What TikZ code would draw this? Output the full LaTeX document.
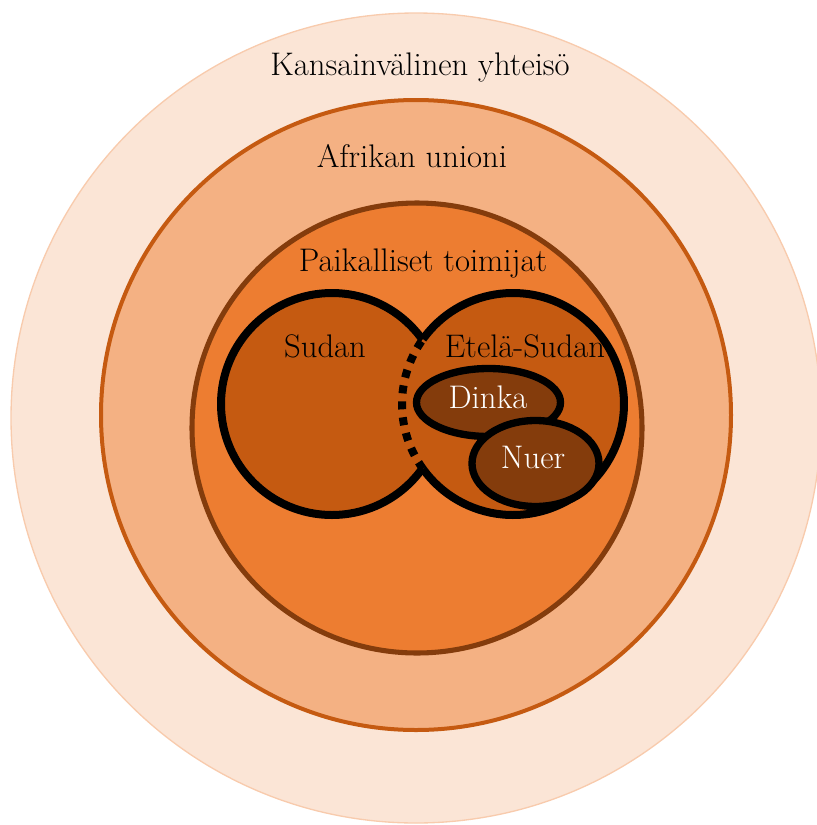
\documentclass[tikz,border=0pt]{standalone}
\definecolor{cOuter}{HTML}{FBE5D6}
\definecolor{cOuterEdge}{HTML}{F8CBAD}
\definecolor{cAU}{HTML}{F4B183}
\definecolor{cAUEdge}{HTML}{C55A11}
\definecolor{cLocal}{HTML}{ED7D31}
\definecolor{cLocalEdge}{HTML}{843C0C}
\definecolor{cState}{HTML}{C55A11}
\definecolor{cGroup}{HTML}{843C0C}
\tikzset{
  lbl/.style={anchor=base, inner sep=0pt, font=\fontsize{24.5}{28}\selectfont},
  wlbl/.style={lbl, text=white},
  statefill/.style={fill=cState},
  blk/.style={draw=black, line width=6pt},
  grp/.style={fill=cGroup, draw=black, line width=5.5pt},
}
\begin{document}
\begin{tikzpicture}[x=0.75pt, y=-0.75pt]
\useasboundingbox (0,0) rectangle (817,825);
\begin{scope}
\clip (0,0) rectangle (817,825);
\fill[cOuter, draw=cOuterEdge, line width=1pt] (416,418) circle (405);
\end{scope}
\filldraw[fill=cAU, draw=cAUEdge, line width=3pt] (416,415) circle (315);
\filldraw[fill=cLocal, draw=cLocalEdge, line width=3.8pt] (417,428) circle (225);
% Sudan
\filldraw[statefill, blk] (332,404) circle (111);
% Etela-Sudan
\fill[statefill] (513,404) circle (111);
\draw[blk, line cap=butt] (513,404) ++(-144.2:111) arc (-144.2:144.2:111);
\draw[blk, line cap=butt, dash pattern=on 6pt off 6pt] (513,404) ++(144.2:111) arc (144.2:215.8:111);
% groups
\filldraw[grp] (488.5,402.5) ellipse (72 and 34);
\filldraw[grp] (535.5,463.5) ellipse (63.5 and 43);
% labels
\node[lbl] (kv) at (420,75) {Kansainvälinen yhteisö};
\node[lbl] (au) at (412,167) {Afrikan unioni};
\node[lbl] (pt) at (423,271) {Paikalliset toimijat};
\node[lbl] (su) at (325,357) {Sudan};
\node[lbl] (es) at (525,357) {Etelä-Sudan};
\node[wlbl] (di) at (488,408) {Dinka};
\node[wlbl] (nu) at (533,468) {Nuer};
\end{tikzpicture}
\end{document}
